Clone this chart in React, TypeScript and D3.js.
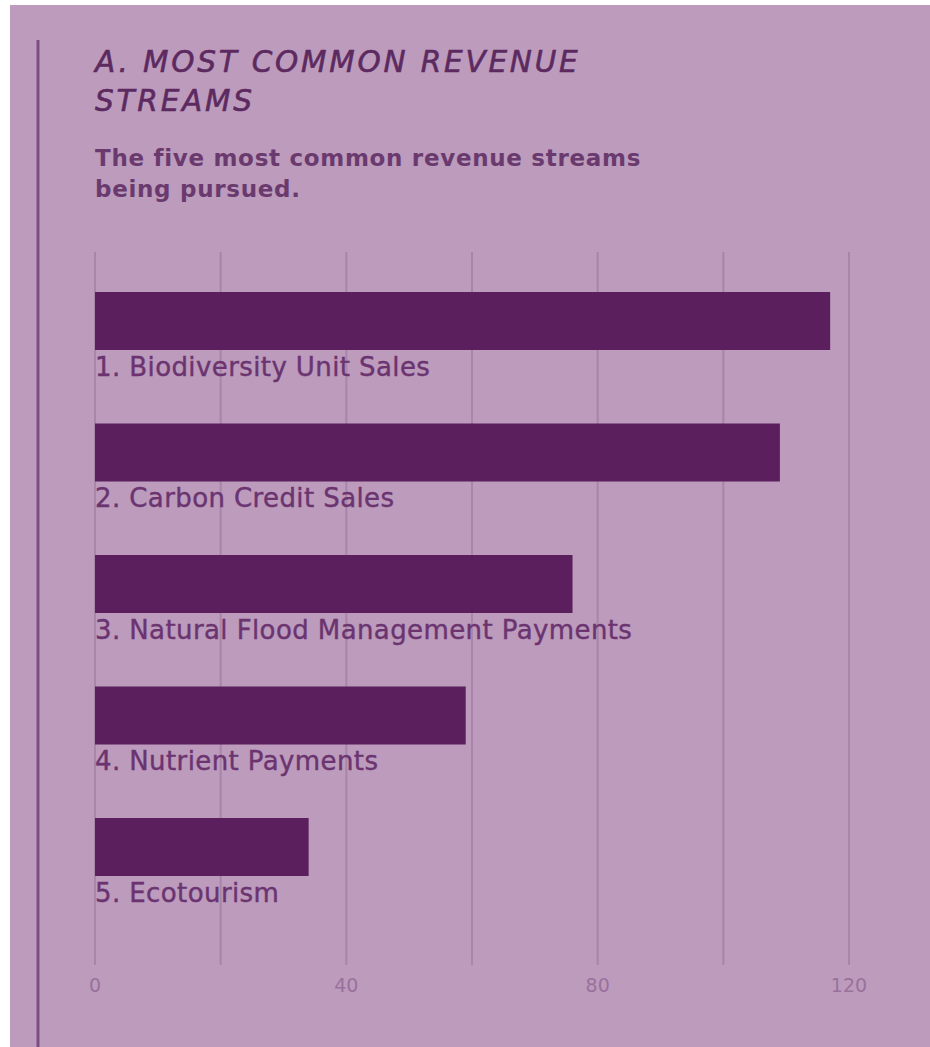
import React from "react";
import * as d3 from "d3";

const categories = [
  "1. Biodiversity Unit Sales",
  "2. Carbon Credit Sales",
  "3. Natural Flood Management Payments",
  "4. Nutrient Payments",
  "5. Ecotourism",
];
const values = [117, 109, 76, 59, 34];
const gridValues = [0, 20, 40, 60, 80, 100, 120];
const tickLabels = [0, 40, 80, 120];
const titleLines = ["A. MOST COMMON REVENUE", "STREAMS"];
const subtitleLines = ["The five most common revenue streams", "being pursued."];

const W = 930;
const H = 1047;
const FONT = "'DejaVu Sans', sans-serif";

export default function App() {
  const x = d3.scaleLinear().domain([0, 120]).range([95, 849]);
  const y = d3.scaleBand<string>().domain(categories).range([292, 876]).paddingInner(0.559).paddingOuter(0);
  return (
    <svg width={W} height={H} style={{ position: "absolute", left: 0, top: 0, display: "block" }}>
      <rect x={0} y={0} width={W} height={H} fill="#ffffff" />
      <rect x={10} y={5} width={W - 10} height={H - 5} fill="#bc9bbc" />
      <line x1={38} x2={38} y1={40} y2={H} stroke="#7e4c82" strokeWidth={3} />
      {titleLines.map((t, i) => (
        <text key={t} x={95} y={72 + i * 39} fill="#5c2a60" stroke="#5c2a60" strokeWidth={0.6} fontFamily={FONT} fontSize={29.5} fontStyle="italic" letterSpacing={2.8}>
          {t}
        </text>
      ))}
      {subtitleLines.map((t, i) => (
        <text key={t} x={95} y={166 + i * 31} fill="#6a3a6e" fontFamily={FONT} fontSize={23} fontWeight={600} letterSpacing={0.7}>
          {t}
        </text>
      ))}
      {gridValues.map((v) => (
        <line key={v} x1={x(v)} x2={x(v)} y1={252} y2={965} stroke="#a985a9" strokeWidth={2} />
      ))}
      {tickLabels.map((v) => (
        <text key={v} x={x(v)} y={992} textAnchor="middle" fill="#9a719c" fontFamily={FONT} fontSize={19}>
          {v}
        </text>
      ))}
      {categories.map((c, i) => (
        <g key={c}>
          <rect x={x(0)} y={y(c)!} width={x(values[i]) - x(0)} height={y.bandwidth()} fill="#5a1f5c" />
          <text x={x(0)} y={y(c)! + y.bandwidth() + 26} fill="#6b3470" stroke="#6b3470" strokeWidth={0.4} fontFamily={FONT} fontSize={26} letterSpacing={0.4}>
            {c}
          </text>
        </g>
      ))}
    </svg>
  );
}
